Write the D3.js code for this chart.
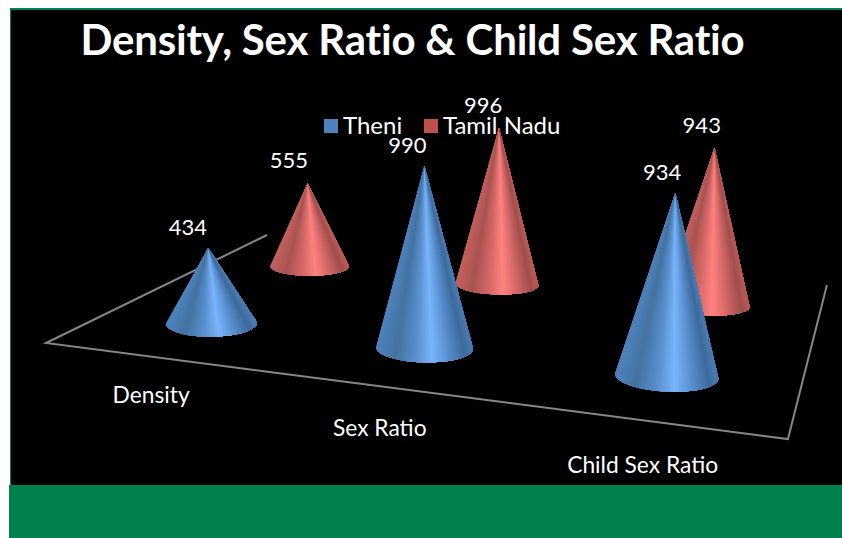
<!DOCTYPE html>
<html>
<head>
<meta charset="utf-8">
<script src="https://cdn.jsdelivr.net/npm/d3@7"></script>
<style>
  html, body { margin: 0; padding: 0; background: #fff; }
  svg { display: block; }
  text { font-family: Lato, "Open Sans", sans-serif; fill: #fff; }
</style>
</head>
<body>
<div id="chart-placeholder"></div>
<script>
var categories = ["Density", "Sex Ratio", "Child Sex Ratio"];
var seriesNames = ["Theni", "Tamil Nadu"];
var theni = [434, 990, 934];
var tamilNadu = [555, 996, 943];
var chartTitle = "Density, Sex Ratio & Child Sex Ratio";

var width = 842, height = 538;

var seriesColor = {"Theni": "#4f81bd", "Tamil Nadu": "#c0504d"};
// shade across the visible half of a cone, left edge to right edge
var shadeStops = [0, 0.2, 0.42, 0.58, 0.72, 0.92, 1];
var shades = {
  "Theni": ["#4f82bf", "#44739f", "#5a90d0", "#7ab4fa", "#5e96d8", "#3d6a9c", "#4a7cb4"],
  "Tamil Nadu": ["#c4605e", "#a85452", "#d86a68", "#ff8280", "#d96c6a", "#a04e4c", "#bb5a58"]
};

var svg = d3.select("#chart-placeholder")
    .append("svg")
    .attr("width", width)
    .attr("height", height);

// background
svg.append("rect")
    .attr("x", 10).attr("y", 8)
    .attr("width", width - 10).attr("height", 478)
    .attr("fill", "#00804c");
svg.append("rect")
    .attr("x", 11).attr("y", 10)
    .attr("width", width - 11).attr("height", 475)
    .attr("fill", "#000");
svg.append("rect")
    .attr("x", 9).attr("y", 485)
    .attr("width", width - 9).attr("height", height - 485)
    .attr("fill", "#00804c");

// floor of the 3d chart, unit square u,v to screen
var a = 593.1, b = 311.3, c = 46,
    d = 13.1, e = -28.5, f = 343,
    g = -0.1889, h = 0.3382;

function project(u, v) {
  var w = 1 + g * u + h * v;
  return {x: (a * u + b * v + c) / w, y: (d * u + e * v + f) / w, scale: 1 / w};
}

var uScale = d3.scalePoint().domain(categories).range([0, 1]).padding(0.5);
var vScale = d3.scalePoint().domain(seriesNames).range([0, 1]).padding(0.5);
var heightScale = d3.scaleLinear().domain([0, 1000]).range([0, 182]);

var baseRadius = 48;
// the back row is seen at a flatter angle
var ellipseRatio = {"Theni": 0.3, "Tamil Nadu": 0.25};
var coneDrop = {"Theni": 2, "Tamil Nadu": 1};

// floor edges
var floorLine = d3.line().x(function(p) { return p.x; }).y(function(p) { return p.y; });
svg.append("path")
    .attr("d", floorLine([project(0, 1), project(0, 0), project(1, 0), project(1, 1)]))
    .attr("fill", "none")
    .attr("stroke", "#868686")
    .attr("stroke-width", 2);

// back row first so the front cones cover it
var cones = [];
[["Tamil Nadu", tamilNadu], ["Theni", theni]].forEach(function(s) {
  categories.forEach(function(cat, i) {
    var p = project(uScale(cat), vScale(s[0]));
    var H = heightScale(s[1][i]) * p.scale;
    cones.push({
      series: s[0], value: s[1][i], x: p.x, y: p.y + coneDrop[s[0]],
      rx: baseRadius * p.scale,
      ry: baseRadius * p.scale * ellipseRatio[s[0]],
      tilt: (p.x - 300) * 0.008 * Math.PI / 180,
      apex: {x: p.x + (p.x - 430) * H * 0.0002, y: p.y + coneDrop[s[0]] - H}
    });
  });
});

function arcPoint(cone, t) {
  var ex = cone.rx * Math.cos(t), ey = cone.ry * Math.sin(t);
  return {
    x: cone.x + ex * Math.cos(cone.tilt) - ey * Math.sin(cone.tilt),
    y: cone.y + ex * Math.sin(cone.tilt) + ey * Math.cos(cone.tilt)
  };
}

var wedgeCount = 72;
var coneGroups = svg.selectAll(".cone")
    .data(cones)
    .enter().append("g")
    .attr("class", "cone");

coneGroups.each(function(cone) {
  var shade = d3.scaleLinear().domain(shadeStops).range(shades[cone.series]);
  d3.select(this).selectAll("path")
      .data(d3.range(wedgeCount))
      .enter().append("path")
      .attr("d", function(k) {
        // each wedge runs on to the right edge and the next one paints over it, no seams that way
        var pts = [cone.apex];
        d3.range(k, wedgeCount + 1).forEach(function(j) {
          pts.push(arcPoint(cone, Math.PI * (1 - j / wedgeCount)));
        });
        return floorLine(pts) + "Z";
      })
      .attr("fill", function(k) {
        return shade((1 - Math.cos(Math.PI * (k + 0.5) / wedgeCount)) / 2);
      });
});

// value labels
var labelShift = d3.scaleLinear().domain([166, 750]).range([-21, -12]);
svg.selectAll(".value")
    .data(cones)
    .enter().append("text")
    .attr("class", "value")
    .attr("x", function(o) { return o.apex.x + labelShift(o.x); })
    .attr("y", function(o) { return o.apex.y - (o.series == "Theni" ? 13 : 15); })
    .attr("text-anchor", "middle")
    .style("font-size", "22px")
    .text(function(o) { return o.value; });

// category labels
svg.selectAll(".category")
    .data(categories)
    .enter().append("text")
    .attr("class", "category")
    .attr("x", function(cat) { return project(uScale(cat), 0).x + 1.5; })
    .attr("y", function(cat) { var p = project(uScale(cat), 0); return p.y + 45 * p.scale; })
    .attr("text-anchor", "middle")
    .style("font-size", "22.8px")
    .text(function(cat) { return cat; });

// legend
var legendX = d3.scaleOrdinal().domain(seriesNames).range([324, 424]);
var legend = svg.selectAll(".legend")
    .data(seriesNames)
    .enter().append("g")
    .attr("class", "legend")
    .attr("transform", function(n) { return "translate(" + legendX(n) + ",119)"; });
legend.append("rect")
    .attr("width", 14).attr("height", 14)
    .attr("fill", function(n) { return seriesColor[n]; });
legend.append("text")
    .attr("x", 19).attr("y", 15)
    .style("font-size", "24px")
    .text(function(n) { return n; });

// title it
svg.append("text")
    .attr("x", 412.5)
    .attr("y", 55)
    .attr("text-anchor", "middle")
    .style("font-size", "42px")
    .style("font-weight", "700")
    .style("letter-spacing", "-0.2px")
    .text(chartTitle);
</script>
</body>
</html>
